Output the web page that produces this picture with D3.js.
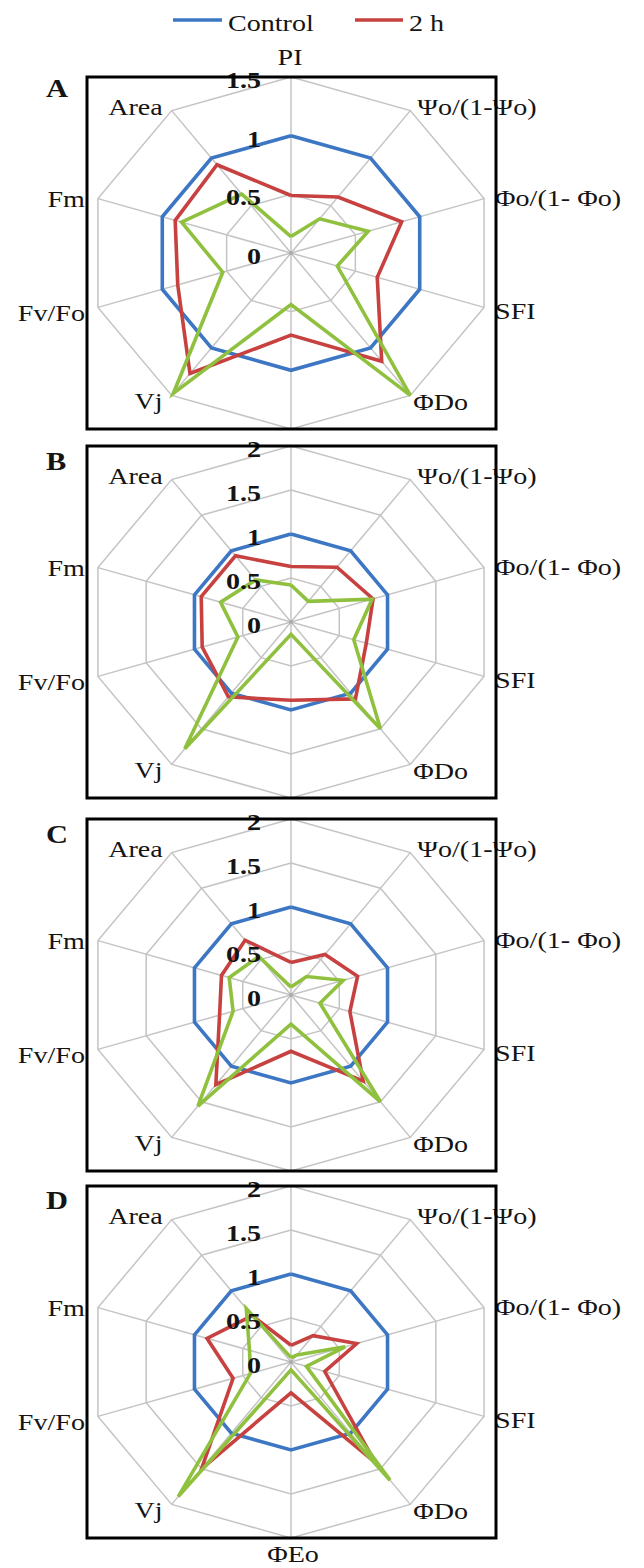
<!DOCTYPE html>
<html>
<head>
<meta charset="utf-8">
<script src="https://cdn.jsdelivr.net/npm/d3@7"></script>
<style>
  html, body { margin: 0; padding: 0; background: #fff; }
  svg { display: block; }
  text { font-family: "Liberation Serif", "Times New Roman", serif; fill: #141414; }
</style>
</head>
<body>
<svg id="chart" width="644" height="1568"></svg>
<script>
// ---------------- DATA ----------------
const categories = ["PI", "Ψo/(1-Ψo)", "Φo/(1- Φo)", "SFI", "ΦDo", "ΦEo", "Vj", "Fv/Fo", "Fm", "Area"];
const panelLetters = ["A", "B", "C", "D"];
const legendNames = ["Control", "2 h"];
const axisMax = [1.5, 2, 2, 2];
const tickLabelsA = ["0", "0.5", "1", "1.5"];
const tickLabelsBCD = ["0", "0.5", "1", "1.5", "2"];

const controlA = [1, 1, 1, 1, 1, 1, 1, 1, 1, 1];
const twoHourA = [0.49, 0.59, 0.86, 0.67, 1.14, 0.70, 1.27, 0.88, 0.90, 0.93];
const thirdA   = [0.14, 0.36, 0.60, 0.36, 1.50, 0.44, 1.48, 0.53, 0.85, 0.62];

const controlB = [1, 1, 1, 1, 1, 1, 1, 1, 1, 1];
const twoHourB = [0.63, 0.77, 0.85, 0.78, 1.08, 0.89, 1.05, 0.92, 0.93, 0.93];
const thirdB   = [0.42, 0.29, 0.84, 0.65, 1.50, 0.14, 1.78, 0.55, 0.73, 0.59];

const controlC = [1, 1, 1, 1, 1, 1, 1, 1, 1, 1];
const twoHourC = [0.37, 0.57, 0.69, 0.61, 1.21, 0.64, 1.26, 0.74, 0.72, 0.77];
const thirdC   = [0.09, 0.26, 0.54, 0.30, 1.50, 0.33, 1.56, 0.60, 0.64, 0.54];

const controlD = [1, 1, 1, 1, 1, 1, 1, 1, 1, 1];
const twoHourD = [0.19, 0.37, 0.68, 0.35, 1.41, 0.35, 1.50, 0.60, 0.87, 0.65];
const thirdD   = [0.05, 0.10, 0.56, 0.16, 1.66, 0.09, 1.89, 0.42, 0.43, 0.75];

// ---------------- LAYOUT / STYLE ----------------
const colors = ["#3d77c4", "#c6413f", "#8fc03e"];
const W = 644, H = 1568;
const cx = 291, Rx = 203, Ry = 176;
const panelCY = [253, 622, 995, 1362];
const boxLeft = 87, boxRight = 496;
const letterBaseOffset = [20, 24, 24, 23];
const fontSize = 24, sx = 1.17;
// per-axis label offsets from vertex: [dx, dyToCenterOfCaps, anchor]
const labelOffsets = [
  [-1, -20, "middle"], [7, -4, "start"], [11, -1, "start"], [11, 4, "start"], [3, 7, "start"],
  [2, 16, "middle"], [-9, 6, "end"], [-13, 6, "end"], [-13, 0, "end"], [-9, -4, "end"]
];

const panels = [
  { letter: panelLetters[0], max: axisMax[0], ticks: tickLabelsA, series: [controlA, twoHourA, thirdA], showTop: true, showBottom: false },
  { letter: panelLetters[1], max: axisMax[1], ticks: tickLabelsBCD, series: [controlB, twoHourB, thirdB], showTop: false, showBottom: false },
  { letter: panelLetters[2], max: axisMax[2], ticks: tickLabelsBCD, series: [controlC, twoHourC, thirdC], showTop: false, showBottom: false },
  { letter: panelLetters[3], max: axisMax[3], ticks: tickLabelsBCD, series: [controlD, twoHourD, thirdD], showTop: false, showBottom: true }
];

const svg = d3.select("#chart");
svg.append("rect").attr("width", W).attr("height", H).attr("fill", "#fff");

function addText(g, x, y, str, anchor, opts = {}) {
  return g.append("text")
    .attr("transform", `translate(${x},${y}) scale(${opts.sx || sx},1)`)
    .attr("text-anchor", anchor)
    .attr("font-size", opts.size || fontSize)
    .attr("font-weight", opts.bold ? "bold" : "normal")
    .text(str);
}

const n = categories.length;
const angle = d3.scaleLinear().domain([0, n]).range([0, 2 * Math.PI]);

panels.forEach((p, pi) => {
  const cy = panelCY[pi];
  const r = d3.scaleLinear().domain([0, p.max]).range([0, 1]);
  const px = (v, i) => cx + Rx * r(v) * Math.sin(angle(i));
  const py = (v, i) => cy - Ry * r(v) * Math.cos(angle(i));
  const g = svg.append("g");

  // grid rings
  const ringVals = d3.range(0.5, p.max + 1e-9, 0.5);
  const ringLine = d3.line().x(d => px(d.v, d.i)).y(d => py(d.v, d.i));
  ringVals.forEach(v => {
    const pts = d3.range(n + 1).map(i => ({ v, i: i % n }));
    g.append("path").attr("d", ringLine(pts))
      .attr("fill", "none").attr("stroke", "#c4c4c4").attr("stroke-width", 1.5);
  });
  // spokes
  d3.range(n).forEach(i => {
    g.append("line")
      .attr("x1", cx).attr("y1", cy)
      .attr("x2", px(p.max, i)).attr("y2", py(p.max, i))
      .attr("stroke", "#c4c4c4").attr("stroke-width", 1.5);
  });
  g.append("circle").attr("cx", cx).attr("cy", cy).attr("r", 2).attr("fill", "#aaa");

  // category labels
  categories.forEach((c, i) => {
    if (i === 0 && !p.showTop) return;
    if (i === 5 && !p.showBottom) return;
    const o = labelOffsets[i];
    addText(g, px(p.max, i) + o[0], py(p.max, i) + o[1] + 8, c, o[2]);
  });

  // series
  p.series.forEach((s, si) => {
    const closed = s.concat([s[0]]);
    g.append("path")
      .attr("d", d3.line().x((d, k) => px(d, k % n)).y((d, k) => py(d, k % n))(closed))
      .attr("fill", "none")
      .attr("stroke", colors[si])
      .attr("stroke-width", 3.6)
      .attr("stroke-linejoin", "miter");
  });

  // tick labels along PI axis
  p.ticks.forEach(t => {
    const v = +t;
    addText(g, cx - 30, py(v, 0) + 3 + 8, t, "end", { bold: true });
  });

  // box
  g.append("rect")
    .attr("x", boxLeft).attr("y", cy - Ry)
    .attr("width", boxRight - boxLeft).attr("height", 2 * Ry)
    .attr("fill", "none").attr("stroke", "#000").attr("stroke-width", 3);

  // panel letter
  addText(g, 46, cy - Ry + letterBaseOffset[pi], p.letter, "start", { bold: true, size: 26 });
});

// legend
const legend = svg.append("g");
const legendPos = [[173, 222, 228], [355, 403, 409]];
legendNames.forEach((name, i) => {
  const lp = legendPos[i];
  legend.append("line").attr("x1", lp[0]).attr("x2", lp[1]).attr("y1", 20).attr("y2", 20)
    .attr("stroke", colors[i]).attr("stroke-width", 3.6);
  addText(legend, lp[2], 31, name, "start");
});
</script>
</body>
</html>
